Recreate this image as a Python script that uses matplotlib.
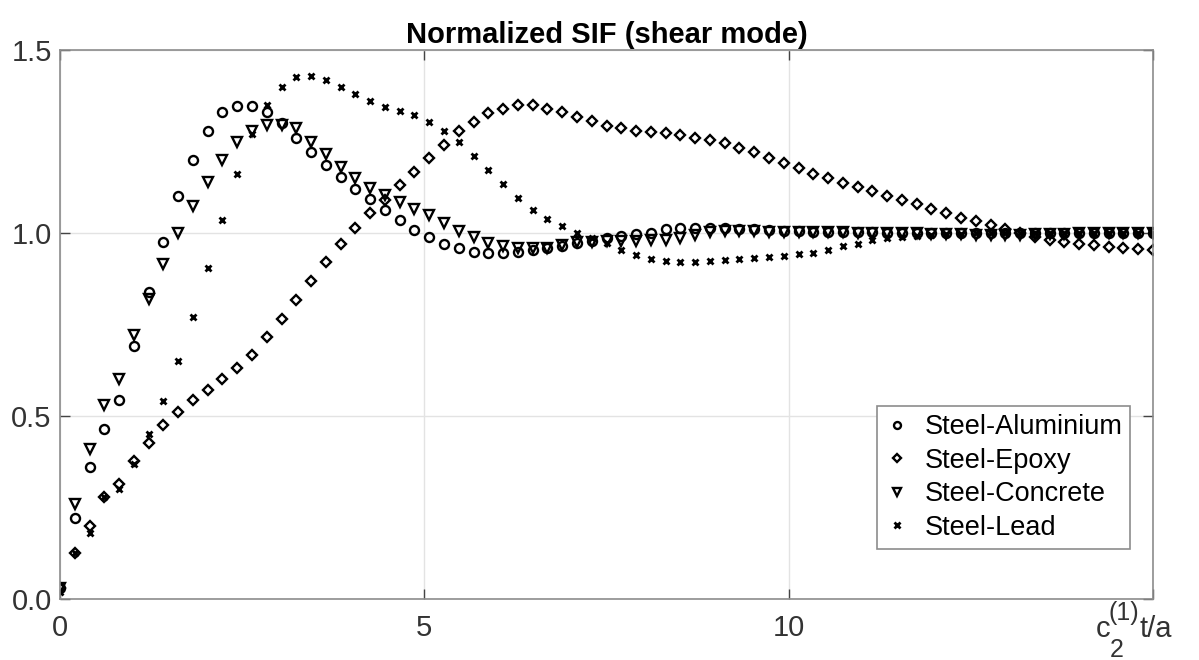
import numpy as np
import matplotlib
matplotlib.use('Agg')
import matplotlib.pyplot as plt
from matplotlib.lines import Line2D

plt.rcParams['font.family'] = ['Liberation Sans', 'DejaVu Sans']

# dimensionless time c2 t / a (75 samples on [0, 15])
t = np.linspace(0, 15, 75)

al = [0.03, 0.22, 0.36, 0.465, 0.545, 0.69, 0.84, 0.975, 1.10, 1.20,
      1.28, 1.33, 1.347, 1.347, 1.33, 1.30, 1.26, 1.22, 1.186, 1.153,
      1.12, 1.093, 1.063, 1.035, 1.008, 0.99, 0.97, 0.958, 0.948, 0.945,
      0.945, 0.948, 0.953, 0.958, 0.965, 0.973, 0.978, 0.986, 0.992, 0.997,
      1.0, 1.01, 1.013, 1.015, 1.015, 1.013, 1.012, 1.01, 1.008, 1.006,
      1.005, 1.004, 1.003, 1.003, 1.002, 1.002, 1.001, 1.001, 1.0, 1.0,
      1.0, 1.0, 1.0, 1.0, 1.0, 1.0, 1.0, 1.0, 1.0, 1.0,
      1.0, 1.0, 1.0, 1.0, 1.0]

epoxy = [0.03, 0.125, 0.20, 0.28, 0.315, 0.377, 0.426, 0.475, 0.51, 0.545,
         0.57, 0.60, 0.63, 0.667, 0.716, 0.765, 0.817, 0.87, 0.92, 0.97,
         1.013, 1.055, 1.09, 1.13, 1.167, 1.205, 1.24, 1.28, 1.303, 1.328,
         1.34, 1.35, 1.35, 1.34, 1.33, 1.317, 1.305, 1.292, 1.287, 1.28,
         1.277, 1.273, 1.268, 1.26, 1.254, 1.246, 1.232, 1.22, 1.205, 1.19,
         1.177, 1.161, 1.15, 1.137, 1.125, 1.115, 1.10, 1.09, 1.08, 1.066,
         1.055, 1.04, 1.033, 1.022, 1.01, 1.0, 0.99, 0.982, 0.975, 0.97,
         0.966, 0.962, 0.959, 0.956, 0.953]

concrete = [0.03, 0.26, 0.41, 0.53, 0.60, 0.72, 0.82, 0.915, 1.0, 1.074,
            1.14, 1.20, 1.25, 1.28, 1.295, 1.295, 1.287, 1.25, 1.215, 1.18,
            1.15, 1.123, 1.104, 1.085, 1.066, 1.049, 1.027, 1.005, 0.99, 0.973,
            0.965, 0.958, 0.958, 0.96, 0.967, 0.975, 0.975, 0.977, 0.978, 0.978,
            0.98, 0.982, 0.986, 0.995, 1.003, 1.005, 1.005, 1.005, 1.004, 1.004,
            1.003, 1.003, 1.002, 1.002, 1.001, 1.0, 1.0, 1.0, 0.999, 0.998,
            0.997, 0.996, 0.995, 0.994, 0.994, 0.995, 0.996, 0.997, 0.998, 0.999,
            1.0, 1.0, 1.0, 1.0, 1.0]

lead = [0.02, 0.125, 0.18, 0.28, 0.30, 0.37, 0.45, 0.54, 0.65, 0.77,
        0.905, 1.035, 1.16, 1.27, 1.35, 1.40, 1.426, 1.43, 1.418, 1.40,
        1.38, 1.36, 1.345, 1.333, 1.322, 1.303, 1.28, 1.25, 1.21, 1.172,
        1.134, 1.096, 1.063, 1.038, 1.019, 1.0, 0.985, 0.972, 0.954, 0.94,
        0.929, 0.924, 0.92, 0.92, 0.924, 0.926, 0.929, 0.932, 0.935, 0.937,
        0.942, 0.945, 0.954, 0.965, 0.97, 0.98, 0.985, 0.99, 0.993, 0.995,
        0.997, 0.998, 0.999, 1.0, 1.0, 1.0, 1.0, 1.0, 1.0, 1.0,
        1.0, 1.0, 1.0, 1.0, 1.0]

labels = ['Steel-Aluminium', 'Steel-Epoxy', 'Steel-Concrete', 'Steel-Lead']

fig = plt.figure(figsize=(11.99, 6.6), dpi=100)
ax = fig.add_axes([60 / 1199, 61 / 660, 1093 / 1199, 549 / 660])

ax.plot(t, al, 'o', ms=6.5, mfc='none', mec='black', mew=1.7)
ax.plot(t, epoxy, 'D', ms=5.5, mfc='none', mec='black', mew=1.7)
ax.plot(t, concrete, 'v', ms=7, mfc='none', mec='black', mew=1.7)
ax.plot(t, lead, 'x', ms=4, mec='black', mew=2.0)

ax.set_xlim(0, 15)
ax.set_ylim(0, 1.5)
ax.set_xticks([0, 5, 10, 15])
ax.set_xticklabels(['0', '5', '10', ''])
ax.set_yticks([0, 0.5, 1.0, 1.5])
ax.set_yticklabels(['0.0', '0.5', '1.0', '1.5'])
ax.grid(True, color='#e3e3e3', linewidth=1)
ax.set_axisbelow(True)
ax.tick_params(direction='in', length=7, width=1, color='#444444',
               labelsize=21, labelcolor='#333333', top=True, right=True)
ax.tick_params(axis='y', pad=6)
ax.tick_params(axis='x', pad=11)
for s in ax.spines.values():
    s.set_color('#8c8c8c')
    s.set_linewidth(1.2)

ax.set_title('Normalized SIF (shear mode)', fontsize=21, fontweight='bold', pad=5)

# x label drawn piecewise at the right end, as in the original
kw = dict(color='#333333', va='baseline', ha='left')
fig.text(1096 / 1199, 1 - 637 / 660, 'c', fontsize=21, **kw)
fig.text(1109 / 1199, 1 - 620 / 660, '(1)', fontsize=18, **kw)
fig.text(1110 / 1199, 1 - 657 / 660, '2', fontsize=18, **kw)
fig.text(1140 / 1199, 1 - 637 / 660, 't/a', fontsize=21, **kw)

handles = [
    Line2D([], [], ls='none', marker='o', ms=5, mfc='none', mec='black', mew=1.7),
    Line2D([], [], ls='none', marker='D', ms=4.3, mfc='none', mec='black', mew=1.7),
    Line2D([], [], ls='none', marker='v', ms=5.5, mfc='none', mec='black', mew=1.7),
    Line2D([], [], ls='none', marker='x', ms=4, mec='black', mew=2.0),
]
leg = ax.legend(handles, labels, loc='upper left',
                bbox_to_anchor=(877 / 1199, 1 - 406 / 660),
                bbox_transform=fig.transFigure, borderaxespad=0, fontsize=19.5,
                fancybox=False, edgecolor='#8c8c8c', framealpha=1,
                handlelength=0.9, handletextpad=0.55, labelspacing=0.28,
                borderpad=0.3)
leg.get_frame().set_linewidth(1.2)

fig.savefig('out.png', dpi=100)
